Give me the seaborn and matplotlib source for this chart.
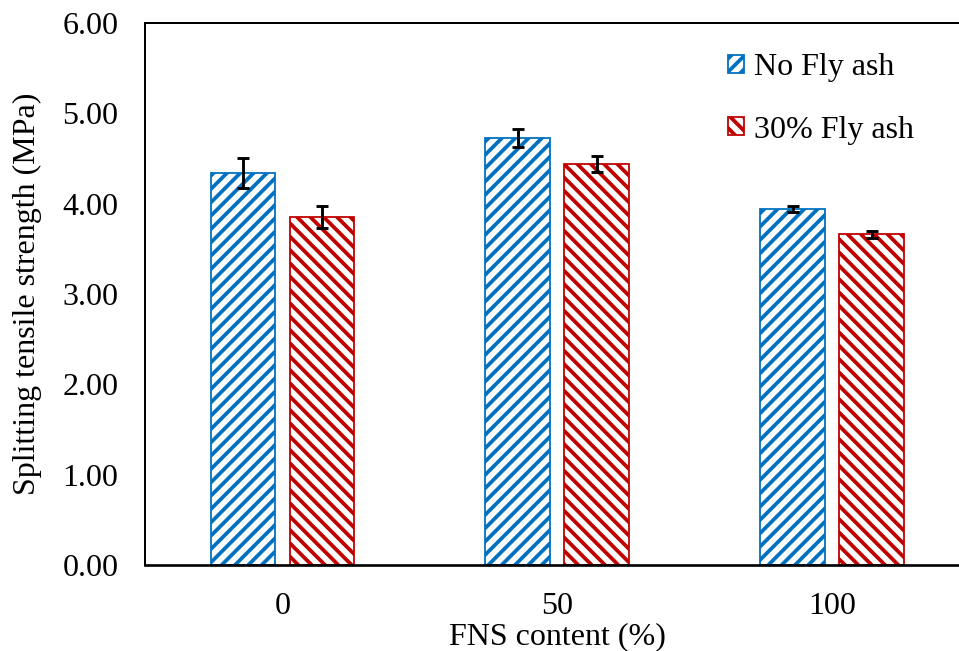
import numpy as np
import pandas as pd
import matplotlib
matplotlib.use('Agg')
import matplotlib.pyplot as plt
from matplotlib.patches import Patch
import seaborn as sns

# data
fns_content = ['0', '50', '100']
groups = ['No Fly ash', '30% Fly ash']
strength_no_fa = [4.34, 4.73, 3.94]
strength_30_fa = [3.85, 4.44, 3.66]
err_no_fa = [0.17, 0.10, 0.035]
err_30_fa = [0.12, 0.09, 0.04]
y_ticks = [0.0, 1.0, 2.0, 3.0, 4.0, 5.0, 6.0]

blue = '#0070C0'
red = '#C00000'

df = pd.DataFrame({
    'FNS': fns_content * 2,
    'strength': strength_no_fa + strength_30_fa,
    'err': err_no_fa + err_30_fa,
    'group': [groups[0]] * 3 + [groups[1]] * 3,
})

sns.set_style('white')
plt.rcParams['font.family'] = ['Liberation Serif', 'DejaVu Serif']
plt.rcParams['hatch.linewidth'] = 1.7
plt.rcParams['text.color'] = 'black'
plt.rcParams['xtick.color'] = 'black'
plt.rcParams['ytick.color'] = 'black'
plt.rcParams['axes.labelcolor'] = 'black'
fs = 14.4

dpi = 160
fig = plt.figure(figsize=(959 / dpi, 651 / dpi), dpi=dpi)
ax = fig.add_axes([145 / 959, 1 - 565 / 651, 824.5 / 959, 542 / 651])

sns.barplot(data=df, x='FNS', y='strength', hue='group', order=fns_content,
            hue_order=groups, palette=[blue, red], width=0.5745, gap=0.18,
            errorbar=None, legend=False, ax=ax)

hatches = {groups[0]: '////', groups[1]: '\\\\\\\\'}
colors = {groups[0]: blue, groups[1]: red}
for bars, g in zip(ax.containers, groups):
    sub = df[df['group'] == g]
    for bar in bars:
        bar.set_facecolor('white')
        bar.set_edgecolor(colors[g])
        bar.set_linewidth(0.8)
        bar.set_hatch(hatches[g])
    xs = [b.get_x() + b.get_width() / 2 for b in bars]
    ax.errorbar(xs, sub['strength'], yerr=sub['err'], fmt='none',
                ecolor='black', elinewidth=1.3, capsize=2.8, capthick=1.3)

ax.set_ylim(0, 6)
ax.set_xlim(-0.5, 2.5)
ax.set_yticks(y_ticks)
ax.set_yticklabels(['%.2f' % v for v in y_ticks])
ax.tick_params(axis='both', length=0, labelsize=fs, pad=12)
ax.set_xlabel('FNS content (%)', fontsize=fs, labelpad=0.5)
ax.set_ylabel('Splitting tensile strength (MPa)', fontsize=fs, labelpad=9)

for s in ['left', 'top', 'right']:
    ax.spines[s].set_linewidth(0.9)
    ax.spines[s].set_color('black')
ax.spines['bottom'].set_linewidth(1.2)
ax.spines['bottom'].set_color('black')

handles = [Patch(facecolor='white', edgecolor=colors[g], hatch=hatches[g], linewidth=0.8)
           for g in groups]
fig.legend(handles, groups, loc='upper left', bbox_to_anchor=(728 / 959, 1 - 53 / 651),
           frameon=False, fontsize=fs, handlelength=0.5, handleheight=0.5,
           handletextpad=0.3, labelspacing=1.05, borderpad=0, borderaxespad=0)

fig.savefig('out.png', dpi=dpi)
